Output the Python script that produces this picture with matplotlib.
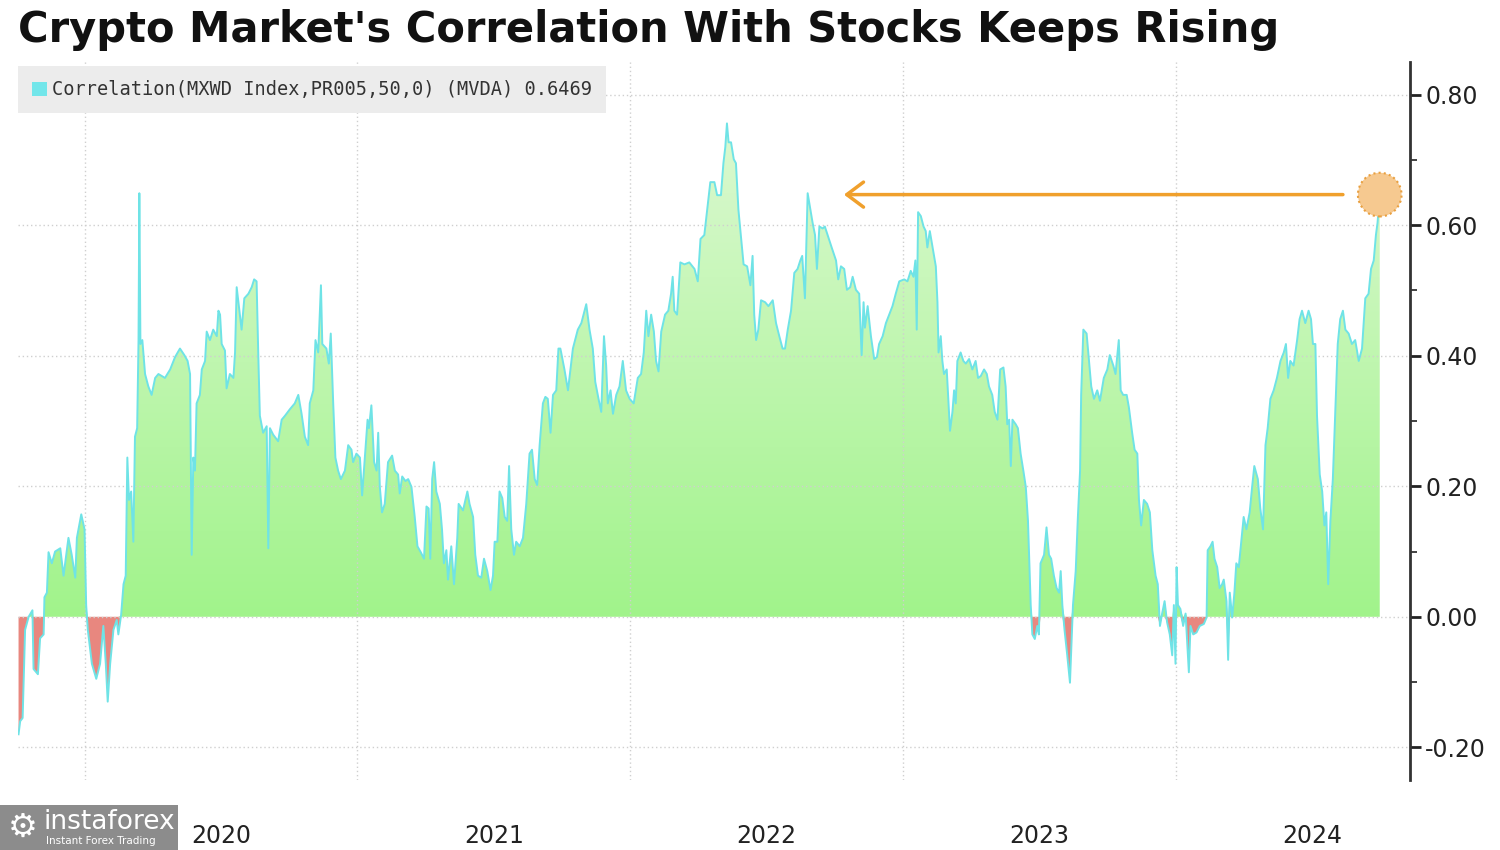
import numpy as np
import matplotlib
matplotlib.use("Agg")
import matplotlib.pyplot as plt
from matplotlib.colors import LinearSegmentedColormap
from matplotlib.patches import Ellipse, Patch, Rectangle
from matplotlib.path import Path

# (year, correlation), one list per stretch of time
seg_2019_20 = [
    (2019.757, -0.18), (2019.763, -0.16), (2019.772, -0.155), (2019.781, -0.02), (2019.794, 0.0),
    (2019.808, 0.01), (2019.812, -0.08), (2019.828, -0.088), (2019.836, -0.033), (2019.849, -0.027),
    (2019.852, 0.03), (2019.861, 0.037), (2019.867, 0.099), (2019.879, 0.082), (2019.891, 0.10),
    (2019.910, 0.105), (2019.922, 0.063), (2019.940, 0.121), (2019.952, 0.095), (2019.965, 0.06),
    (2019.971, 0.121), (2019.987, 0.157), (2019.999, 0.134), (2020.005, 0.018), (2020.011, -0.02),
    (2020.026, -0.072), (2020.042, -0.095), (2020.056, -0.072), (2020.068, -0.014), (2020.077, -0.072),
    (2020.084, -0.13), (2020.093, -0.072), (2020.105, -0.02), (2020.117, -0.005), (2020.123, -0.027),
    (2020.133, 0.002), (2020.142, 0.05), (2020.150, 0.063), (2020.156, 0.244), (2020.162, 0.179),
    (2020.170, 0.192), (2020.178, 0.115), (2020.184, 0.276), (2020.192, 0.289), (2020.197, 0.424),
    (2020.200, 0.649), (2020.204, 0.418), (2020.211, 0.424), (2020.221, 0.372), (2020.233, 0.353),
    (2020.245, 0.34), (2020.258, 0.366), (2020.270, 0.372), (2020.294, 0.366), (2020.313, 0.379),
    (2020.331, 0.398), (2020.349, 0.411), (2020.365, 0.401), (2020.377, 0.392), (2020.386, 0.372),
    (2020.392, 0.095), (2020.398, 0.244), (2020.404, 0.224), (2020.410, 0.327), (2020.422, 0.34),
    (2020.429, 0.379), (2020.441, 0.392), (2020.447, 0.437), (2020.459, 0.424), (2020.471, 0.44),
    (2020.484, 0.43), (2020.490, 0.469), (2020.496, 0.463), (2020.502, 0.418), (2020.514, 0.408),
    (2020.520, 0.35), (2020.532, 0.372), (2020.545, 0.366), (2020.551, 0.405), (2020.557, 0.505),
    (2020.565, 0.476), (2020.575, 0.44), (2020.585, 0.488), (2020.600, 0.495), (2020.612, 0.505),
    (2020.621, 0.517), (2020.630, 0.514), (2020.636, 0.405), (2020.642, 0.308), (2020.654, 0.282),
    (2020.667, 0.292), (2020.673, 0.105), (2020.679, 0.289), (2020.691, 0.279), (2020.709, 0.269),
]
seg_2021 = [
    (2020.722, 0.302), (2020.734, 0.308), (2020.752, 0.318), (2020.770, 0.327), (2020.783, 0.34),
    (2020.795, 0.311), (2020.807, 0.276), (2020.819, 0.263), (2020.825, 0.327), (2020.838, 0.347),
    (2020.846, 0.424), (2020.856, 0.405), (2020.866, 0.508), (2020.871, 0.418), (2020.886, 0.411),
    (2020.895, 0.388), (2020.902, 0.434), (2020.911, 0.327), (2020.919, 0.244), (2020.929, 0.224),
    (2020.939, 0.211), (2020.954, 0.224), (2020.966, 0.263), (2020.978, 0.256), (2020.984, 0.237),
    (2020.996, 0.25), (2021.009, 0.244), (2021.017, 0.186), (2021.027, 0.244), (2021.037, 0.302),
    (2021.042, 0.289), (2021.051, 0.324), (2021.061, 0.237), (2021.070, 0.224), (2021.076, 0.282),
    (2021.082, 0.199), (2021.090, 0.16), (2021.100, 0.173), (2021.112, 0.237), (2021.127, 0.247),
    (2021.137, 0.224), (2021.149, 0.218), (2021.155, 0.189), (2021.164, 0.215), (2021.176, 0.208),
    (2021.186, 0.211), (2021.198, 0.199), (2021.210, 0.153), (2021.220, 0.108), (2021.232, 0.099),
    (2021.244, 0.089), (2021.253, 0.169), (2021.261, 0.166), (2021.267, 0.089), (2021.274, 0.211),
    (2021.281, 0.237), (2021.289, 0.192), (2021.302, 0.173), (2021.310, 0.134), (2021.317, 0.082),
    (2021.326, 0.102), (2021.332, 0.057), (2021.344, 0.108), (2021.354, 0.05), (2021.366, 0.121),
    (2021.371, 0.173), (2021.387, 0.163), (2021.403, 0.192), (2021.411, 0.173), (2021.424, 0.153),
    (2021.432, 0.095), (2021.442, 0.063), (2021.454, 0.06), (2021.464, 0.089), (2021.476, 0.07),
    (2021.488, 0.041), (2021.497, 0.063), (2021.503, 0.115), (2021.513, 0.115), (2021.521, 0.192),
    (2021.531, 0.182), (2021.540, 0.153), (2021.549, 0.147), (2021.556, 0.231), (2021.564, 0.134),
    (2021.574, 0.095), (2021.582, 0.115), (2021.595, 0.108), (2021.607, 0.121), (2021.619, 0.173),
    (2021.631, 0.25), (2021.640, 0.256), (2021.650, 0.211), (2021.659, 0.202), (2021.668, 0.263),
    (2021.680, 0.327), (2021.689, 0.337), (2021.698, 0.334), (2021.708, 0.282), (2021.717, 0.34),
    (2021.729, 0.347), (2021.737, 0.411), (2021.744, 0.411),
]
seg_2022 = [
    (2021.747, 0.405), (2021.759, 0.379), (2021.772, 0.347), (2021.790, 0.411), (2021.808, 0.44),
    (2021.821, 0.45), (2021.839, 0.479), (2021.851, 0.44), (2021.863, 0.411), (2021.872, 0.36),
    (2021.884, 0.334), (2021.894, 0.314), (2021.904, 0.43), (2021.912, 0.385), (2021.918, 0.327),
    (2021.928, 0.347), (2021.937, 0.311), (2021.949, 0.34), (2021.961, 0.353), (2021.973, 0.392),
    (2021.985, 0.347), (2021.998, 0.334), (2022.013, 0.327), (2022.028, 0.366), (2022.040, 0.372),
    (2022.050, 0.405), (2022.059, 0.469), (2022.067, 0.43), (2022.077, 0.463), (2022.087, 0.437),
    (2022.095, 0.392), (2022.104, 0.376), (2022.114, 0.437), (2022.128, 0.463), (2022.140, 0.469),
    (2022.150, 0.495), (2022.156, 0.521), (2022.162, 0.469), (2022.172, 0.463), (2022.184, 0.543),
    (2022.199, 0.54), (2022.217, 0.543), (2022.236, 0.533), (2022.248, 0.514), (2022.258, 0.579),
    (2022.272, 0.585), (2022.284, 0.63), (2022.294, 0.666), (2022.309, 0.666), (2022.319, 0.646),
    (2022.333, 0.646), (2022.342, 0.695), (2022.349, 0.72), (2022.355, 0.756), (2022.361, 0.727),
    (2022.370, 0.727), (2022.380, 0.701), (2022.388, 0.695), (2022.397, 0.624), (2022.407, 0.579),
    (2022.416, 0.54), (2022.429, 0.537), (2022.441, 0.508), (2022.449, 0.553), (2022.455, 0.463),
    (2022.462, 0.424), (2022.470, 0.44), (2022.480, 0.485), (2022.495, 0.482), (2022.507, 0.476),
    (2022.523, 0.485), (2022.535, 0.45), (2022.547, 0.43), (2022.559, 0.411), (2022.568, 0.411),
    (2022.578, 0.44), (2022.590, 0.469), (2022.602, 0.527), (2022.614, 0.533), (2022.624, 0.546),
    (2022.631, 0.553), (2022.641, 0.488), (2022.651, 0.649), (2022.661, 0.624), (2022.669, 0.604),
    (2022.678, 0.585), (2022.685, 0.533), (2022.694, 0.598), (2022.706, 0.595), (2022.714, 0.598),
    (2022.724, 0.585), (2022.739, 0.566), (2022.755, 0.546), (2022.763, 0.517),
]
seg_2023 = [
    (2022.773, 0.537), (2022.785, 0.533), (2022.795, 0.501), (2022.807, 0.505), (2022.816, 0.521),
    (2022.828, 0.501), (2022.840, 0.495), (2022.849, 0.401), (2022.856, 0.482), (2022.861, 0.443),
    (2022.871, 0.476), (2022.883, 0.43), (2022.895, 0.395), (2022.905, 0.398), (2022.913, 0.418),
    (2022.926, 0.43), (2022.938, 0.45), (2022.950, 0.463), (2022.962, 0.476), (2022.974, 0.495),
    (2022.987, 0.514), (2023.005, 0.517), (2023.017, 0.514), (2023.029, 0.53), (2023.039, 0.521),
    (2023.046, 0.546), (2023.051, 0.44), (2023.056, 0.62), (2023.066, 0.614), (2023.076, 0.598),
    (2023.084, 0.591), (2023.090, 0.566), (2023.099, 0.591), (2023.109, 0.566), (2023.121, 0.537),
    (2023.127, 0.482), (2023.131, 0.405), (2023.139, 0.43), (2023.145, 0.392), (2023.151, 0.372),
    (2023.161, 0.379), (2023.166, 0.34), (2023.173, 0.285), (2023.182, 0.314), (2023.188, 0.347),
    (2023.194, 0.327), (2023.200, 0.392), (2023.212, 0.405), (2023.222, 0.392), (2023.231, 0.388),
    (2023.243, 0.395), (2023.255, 0.379), (2023.267, 0.392), (2023.276, 0.366), (2023.286, 0.369),
    (2023.298, 0.379), (2023.308, 0.372), (2023.316, 0.353), (2023.328, 0.34), (2023.337, 0.314),
    (2023.347, 0.302), (2023.357, 0.379), (2023.369, 0.382), (2023.377, 0.353), (2023.383, 0.295),
    (2023.390, 0.302), (2023.396, 0.231), (2023.402, 0.302), (2023.414, 0.295), (2023.422, 0.289),
    (2023.432, 0.25), (2023.442, 0.224), (2023.451, 0.199), (2023.459, 0.147), (2023.464, 0.082),
    (2023.469, 0.018), (2023.475, -0.027), (2023.484, -0.034), (2023.493, -0.014), (2023.499, -0.027),
    (2023.505, 0.082), (2023.518, 0.095), (2023.527, 0.137), (2023.536, 0.095), (2023.544, 0.089),
    (2023.554, 0.063), (2023.564, 0.044), (2023.573, 0.037), (2023.579, 0.07), (2023.585, 0.018),
    (2023.593, -0.02), (2023.603, -0.059), (2023.613, -0.101), (2023.618, -0.046), (2023.624, 0.018),
    (2023.634, 0.07), (2023.642, 0.153), (2023.650, 0.224), (2023.654, 0.34), (2023.662, 0.44),
    (2023.674, 0.434), (2023.683, 0.392), (2023.691, 0.353), (2023.701, 0.334), (2023.713, 0.347),
    (2023.723, 0.331), (2023.737, 0.366), (2023.750, 0.379), (2023.759, 0.401), (2023.772, 0.385),
    (2023.780, 0.372), (2023.792, 0.424),
]
seg_2024 = [
    (2023.799, 0.347), (2023.808, 0.34), (2023.821, 0.34), (2023.829, 0.321), (2023.841, 0.282),
    (2023.850, 0.256), (2023.860, 0.25), (2023.866, 0.179), (2023.874, 0.14), (2023.884, 0.179),
    (2023.896, 0.173), (2023.906, 0.16), (2023.915, 0.102), (2023.927, 0.063), (2023.935, 0.05),
    (2023.943, -0.014), (2023.951, 0.005), (2023.960, 0.024), (2023.969, -0.008), (2023.979, -0.027),
    (2023.988, -0.059), (2023.994, 0.018), (2024.000, -0.072), (2024.004, 0.076), (2024.009, 0.018),
    (2024.018, 0.012), (2024.028, -0.014), (2024.037, 0.005), (2024.043, -0.04), (2024.049, -0.085),
    (2024.055, -0.014), (2024.065, -0.027), (2024.077, -0.024), (2024.089, -0.014), (2024.104, -0.011),
    (2024.114, -0.001), (2024.118, 0.102), (2024.128, 0.108), (2024.136, 0.115), (2024.143, 0.089),
    (2024.153, 0.076), (2024.162, 0.044), (2024.171, 0.05), (2024.177, 0.057), (2024.187, 0.024),
    (2024.193, -0.066), (2024.199, 0.037), (2024.208, -0.001), (2024.216, 0.037), (2024.223, 0.082),
    (2024.232, 0.076), (2024.241, 0.115), (2024.250, 0.153), (2024.260, 0.134), (2024.272, 0.16),
    (2024.281, 0.199), (2024.289, 0.231), (2024.302, 0.211), (2024.311, 0.166), (2024.321, 0.134),
    (2024.330, 0.263), (2024.338, 0.289), (2024.348, 0.334), (2024.360, 0.347), (2024.372, 0.366),
    (2024.385, 0.392), (2024.397, 0.405), (2024.405, 0.418), (2024.413, 0.366), (2024.421, 0.392),
    (2024.433, 0.385), (2024.446, 0.424), (2024.455, 0.456), (2024.464, 0.469), (2024.476, 0.45),
    (2024.488, 0.469), (2024.497, 0.456), (2024.504, 0.418), (2024.513, 0.418), (2024.519, 0.308),
    (2024.529, 0.218), (2024.538, 0.192), (2024.546, 0.14), (2024.553, 0.16), (2024.560, 0.05),
    (2024.568, 0.147), (2024.577, 0.211), (2024.586, 0.314), (2024.595, 0.418), (2024.604, 0.456),
    (2024.614, 0.469), (2024.623, 0.44), (2024.635, 0.434), (2024.647, 0.418), (2024.659, 0.424),
    (2024.672, 0.392), (2024.684, 0.411), (2024.696, 0.488), (2024.708, 0.495), (2024.717, 0.533),
    (2024.727, 0.546), (2024.735, 0.585), (2024.741, 0.604), (2024.749, 0.6469),
]

year_ticks = [2020, 2021, 2022, 2023, 2024]
year_labels = ["2020", "2021", "2022", "2023", "2024"]
y_ticks = [-0.2, 0.0, 0.2, 0.4, 0.6, 0.8]
title = "Crypto Market's Correlation With Stocks Keeps Rising"
legend_label = "Correlation(MXWD Index,PR005,50,0) (MVDA) 0.6469"
arrow_back_to = 2022.784  # arrow points back to the 2022 levels

years, corr = np.array(seg_2019_20 + seg_2021 + seg_2022 + seg_2023 + seg_2024).T

LINE = "#6fe3e6"
RED = "#e8877f"
ORANGE = "#f0a02c"

fig = plt.figure(figsize=(15, 8.5), dpi=100)
ax = fig.add_axes([0.012, 0.0824, 0.928, 0.8446])

# green area with a soft vertical gradient, clipped to the positive part
pos = ax.fill_between(years, np.clip(corr, 0, None), 0, facecolor="none", edgecolor="none")
cmap = LinearSegmentedColormap.from_list("g", ["#a1f38b", "#ddf9d3"])
grad = ax.imshow(np.linspace(0, 1, 256).reshape(-1, 1), extent=[years[0], years[-1], 0, 0.78],
                 origin="lower", aspect="auto", cmap=cmap, zorder=1)
clip = Path.make_compound_path(*pos.get_paths())
grad.set_clip_path(clip, transform=ax.transData)
ax.fill_between(years, np.clip(corr, None, 0), 0, facecolor=RED, edgecolor="none", zorder=1)
ax.plot(years, corr, color=LINE, lw=1.4, zorder=3)
ax.set_xlim(2019.755, 2024.86)
ax.set_ylim(-0.25, 0.85)

# grid and axes
for s in ["left", "top", "bottom"]:
    ax.spines[s].set_visible(False)
ax.spines["right"].set_linewidth(2)
ax.spines["right"].set_color("#333333")
ax.yaxis.tick_right()
ax.set_yticks(y_ticks)
ax.set_yticklabels([f"{v:.2f}" for v in y_ticks])
ax.set_yticks(np.arange(-0.1, 0.8, 0.2), minor=True)
ax.tick_params(axis="y", which="major", direction="out", length=8, width=2, color="#222222",
               labelsize=17, labelcolor="#222222", pad=3)
ax.tick_params(axis="y", which="minor", direction="out", length=5, width=1.2, color="#222222")
ax.set_xticks(year_ticks)
ax.set_xticklabels([])
ax.set_xticks([y + 0.5 for y in year_ticks], minor=True)
ax.set_xticklabels(year_labels, minor=True)
ax.tick_params(axis="x", which="both", length=0, labelsize=17, labelcolor="#222222", pad=32)
ax.grid(True, which="major", axis="both", color="#cfcfcf", linestyle=(0, (1, 2)), lw=1, zorder=2)

# legend box
handle = Patch(facecolor="#72e6ea", edgecolor="none")
leg = ax.legend([handle], [legend_label], loc="upper left", bbox_to_anchor=(0.0, 0.994),
                frameon=True, fancybox=False, facecolor="#ececec", edgecolor="none", framealpha=1,
                prop={"family": "DejaVu Sans Mono", "size": 13.4}, handlelength=0.8, handleheight=0.8,
                handletextpad=0.3, borderpad=0.75, borderaxespad=0)
for t in leg.get_texts():
    t.set_color("#333333")

# annotation: arrow back to the 2022 levels and circle on the latest reading
ax.annotate("", xy=(arrow_back_to, corr[-1]), xytext=(years[-1] - 0.135, corr[-1]),
            arrowprops=dict(arrowstyle="->, head_length=0.6, head_width=0.45", color=ORANGE,
                            lw=2.5, mutation_scale=20, shrinkA=0, shrinkB=0), zorder=5)
ax.add_patch(Ellipse((years[-1], corr[-1]), 0.16, 0.067, facecolor="#f6c990", edgecolor="#e9a040",
                     lw=1.5, linestyle=(0, (1, 1.5)), zorder=4))

fig.text(0.012, 0.965, title, fontsize=30, fontweight="bold", color="#111111", va="center", ha="left")

# watermark
fig.add_artist(Rectangle((0, 0), 178 / 1500, 45 / 850, transform=fig.transFigure,
                         facecolor="#8c8c8c", edgecolor="none"))
fig.text(0.005, 0.027, "\u2699", fontsize=24, color="white", va="center", ha="left")
fig.text(0.029, 0.033, "instaforex", fontsize=19, color="white", va="center", ha="left")
fig.text(0.031, 0.011, "Instant Forex Trading", fontsize=7.5, color="white", va="center", ha="left")

fig.savefig("out.png", dpi=100)
